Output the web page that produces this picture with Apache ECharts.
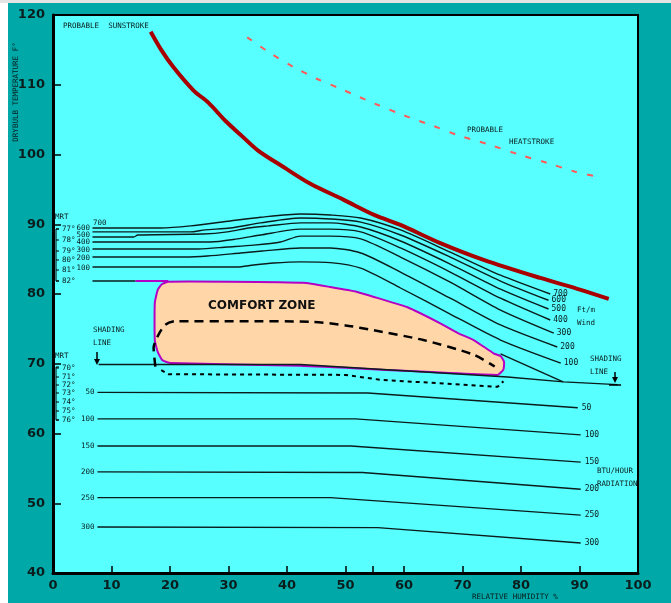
<!DOCTYPE html>
<html><head><meta charset="utf-8">
<script src="https://cdn.jsdelivr.net/npm/echarts@6/dist/echarts.min.js"></script>
<style>html,body{margin:0;padding:0;background:#00A8A8;}#c{width:671px;height:603px;}</style>
</head><body><div id="c"></div><script>
// ---- data: [relative humidity %, dry-bulb temperature F] ----
const sunstroke = [[16.7,117.6],[18.5,115],[20.6,112.5],[24.0,109.2],[26.6,107.4],[29.5,104.8],[32.1,102.8],[35,100.6],[39.4,98.2],[44,95.8],[49.7,93.5],[55,91.3],[59.4,89.9],[66.2,87.3],[73.6,84.9],[83.3,82.3],[90.2,80.6],[95.0,79.3]];
const heatstroke = [[33.2,116.8],[37.2,114.5],[41,112.6],[45,110.9],[49.2,109.4],[55,107.3],[60,105.6],[65,104.1],[69.1,102.8],[75,101.3],[80,99.9],[84.5,98.8],[89,97.6],[93.1,96.8]];
const windLabels = ['700','600','500','400','300','200','100'];
const wind700 = [[6.75,89.46],[18.4,89.46],[23.5,89.76],[30.3,90.47],[35.5,91.0],[42.3,91.47],[47.4,91.33],[52.6,90.9],[59.4,89.18],[67.9,86.0],[76.5,82.7],[85.0,80.0]];
const wind600 = [[6.75,88.9],[23.5,88.9],[26,89.2],[30.3,89.46],[35.5,90.2],[42.3,90.9],[47.4,90.76],[52.6,90.3],[59.4,88.46],[67.9,85.3],[76.5,81.86],[84.7,79.1]];
const wind500 = [[6.75,88.17],[13.8,88.17],[14.5,88.46],[25.7,88.6],[29.8,88.9],[33.4,89.46],[36.8,89.76],[42.3,90.19],[47.4,90.19],[52.6,89.6],[59.4,87.6],[67.9,84.3],[76.5,80.7],[84.7,77.85]];
const wind400 = [[6.75,87.46],[26.9,87.46],[31.5,87.9],[35.5,88.46],[42.3,89.3],[47.4,89.3],[52.6,88.9],[59.4,86.6],[67.9,83.15],[76.5,79.4],[85.0,76.27]];
const wind300 = [[6.75,86.45],[24.9,86.45],[29.8,86.74],[34.3,87.0],[38.9,87.46],[42.3,88.3],[47.4,88.3],[52.6,87.9],[59.4,85.3],[67.9,81.7],[76.5,77.7],[85.6,74.4]];
const wind200 = [[6.75,85.3],[22.6,85.3],[26.4,85.45],[32.1,85.88],[35.8,86.16],[42.3,86.6],[47.4,86.6],[52.6,85.88],[59.4,83.15],[67.9,79.4],[76.5,75.56],[86.2,72.4]];
const wind100 = [[6.75,83.87],[31.5,83.87],[34.3,84.16],[37.7,84.44],[42.3,84.6],[47.4,84.5],[52.6,83.7],[59.4,80.86],[67.9,77.13],[76.5,73.4],[86.8,70.1]];
const baseLine82 = [[6.75,81.86],[14.1,81.86]];
const baseLine82Zone = [[14.1,81.86],[19.7,81.86]];
const comfortZone = [[19.7,81.75],[30,81.75],[42.8,81.6],[47.4,81.0],[52,80.3],[56,79.3],[60.6,78.1],[66.2,75.8],[69.2,74.4],[71.9,73.4],[75.3,71.5],[76.5,71.1],[77.1,70.3],[77.0,69.2],[76.0,68.4],[42.3,69.7],[20.1,70.1],[18.7,70.5],[17.9,71.7],[17.4,73.4],[17.4,78.7],[17.9,80.6],[18.6,81.4]];
const innerDashed = [[17.5,69.6],[17.2,72.3],[18.0,74.1],[19.2,75.6],[20.9,76.1],[32,76.1],[44.5,76.0],[50,75.5],[54.8,74.8],[63.3,73.4],[71.9,71.3],[75.5,69.6]];
const innerDotted = [[18.5,69.1],[19.7,68.5],[50,68.4],[56,67.7],[76,66.7],[77,67.5]];
const shadingLine = [[7.8,69.9],[42.3,69.9],[77.7,68.1],[87.3,67.4],[96.5,67.0]];
const zoneToShading = [[76.5,71.4],[87.2,67.4]];
const radLabels = ['50','100','150','200','250','300'];
const rad50 = [[7.6,65.9],[53.8,65.8],[89.7,63.7]];
const rad100 = [[7.6,62.1],[51.7,62.1],[90.2,59.8]];
const rad150 = [[7.6,58.2],[50.9,58.2],[90.2,55.9]];
const rad200 = [[7.6,54.5],[52.9,54.4],[90.2,52.0]];
const rad250 = [[7.6,50.8],[47.4,50.8],[90.2,48.3]];
const rad300 = [[7.6,46.6],[55.5,46.5],[90.2,44.3]];
const mrtUpper = ['77°','78°','79°','80°','81°','82°'];
const mrtLower = ['70°','71°','72°','73°','74°','75°','76°'];

const INK = '#0a1c1c';
const SMALL = '7.5px "DejaVu Sans Mono"';
const chart = echarts.init(document.getElementById('c'));

function thin(name, data, extra) {
  return Object.assign({
    type: 'line', name: name, data: data, symbol: 'none', silent: true,
    lineStyle: { color: INK, width: 1.4 }, z: 3
  }, extra || {});
}
function endLbl(txt, dist) {
  return { show: true, formatter: txt, color: INK, fontFamily: 'DejaVu Sans Mono', fontSize: 8, distance: dist };
}
const winds = [wind700, wind600, wind500, wind400, wind300, wind200, wind100];
const rads = [rad50, rad100, rad150, rad200, rad250, rad300];

const series = [
  { type: 'custom', name: 'comfort', coordinateSystem: 'cartesian2d', data: [[50, 75]], z: 2, silent: true,
    renderItem: function (params, api) {
      const pts = comfortZone.map(p => api.coord(p));
      return { type: 'polygon', shape: { points: pts, smooth: 0.15 },
        style: { fill: '#FFD6A8', stroke: '#B400C4', lineWidth: 2 } };
    } },
  thin('sunstroke', sunstroke, { smooth: 0.3, lineStyle: { color: '#A80000', width: 4 }, z: 5 }),
  thin('heatstroke', heatstroke, { smooth: 0.3, lineStyle: { color: '#FF5A5A', width: 2, type: [6, 10] }, z: 5 }),
  thin('base82', baseLine82),
  thin('base82zone', baseLine82Zone, { lineStyle: { color: '#B400C4', width: 2 } }),
  thin('shading', shadingLine),
  thin('zoneToShading', zoneToShading),
  thin('innerDashed', innerDashed, { smooth: 0.25, lineStyle: { color: '#000', width: 2.5, type: [9, 6] }, z: 4 }),
  thin('innerDotted', innerDotted, { lineStyle: { color: '#000', width: 2, type: [4, 4] }, z: 4 })
];
winds.forEach((w, i) => series.push(thin('wind' + windLabels[i], w, { smooth: 0.25, endLabel: endLbl(windLabels[i], 3) })));
rads.forEach((r, i) => series.push(thin('rad' + radLabels[i], r, { endLabel: endLbl(radLabels[i], 4) })));

const axisLabelStyle = { color: INK, fontFamily: 'DejaVu Sans', fontWeight: 'bold', fontSize: 13 };
chart.setOption({
  animation: false,
  backgroundColor: '#00A8A8',
  grid: { left: 53, top: 15, width: 585, height: 558, show: true, backgroundColor: '#58FFFF', borderColor: '#000', borderWidth: 2 },
  xAxis: { type: 'value', min: 0, max: 100, interval: 10,
    axisLine: { lineStyle: { color: '#000', width: 3 } },
    axisTick: { inside: true, length: 7, lineStyle: { color: '#000', width: 1.5 } },
    splitLine: { show: false },
    axisLabel: Object.assign({ margin: 6, fontSize: 12 }, axisLabelStyle) },
  yAxis: { type: 'value', min: 40, max: 120, interval: 10,
    axisLine: { lineStyle: { color: '#000', width: 3 } },
    axisTick: { inside: true, length: 8, lineStyle: { color: '#000', width: 1.5 } },
    splitLine: { show: false },
    axisLabel: Object.assign({ margin: 8 }, axisLabelStyle) },
  series: series
});

// ---- annotations ----
function T(text, x, y, opt) {
  return Object.assign({ type: 'text', z: 20, silent: true,
    style: Object.assign({ text: text, x: x, y: y, font: SMALL, fill: INK, textAlign: 'left', textVerticalAlign: 'middle' }, (opt || {})) });
}
const g = [
  { type: 'rect', shape: { x: 0, y: 0, width: 8, height: 603 }, style: { fill: '#FFFFFF' }, z: 1 },
  { type: 'rect', shape: { x: 0, y: 0, width: 671, height: 3 }, style: { fill: '#E4E4E4' }, z: 1 },
  { type: 'text', z: 20, silent: true, x: 16, y: 92, rotation: Math.PI / 2,
    style: { text: 'DRYBULB TEMPERATURE F°', x: 0, y: 0, font: SMALL, fill: INK, textAlign: 'center', textVerticalAlign: 'middle' } },
  T('RELATIVE HUMIDITY %', 472, 597),
  T('PROBABLE  SUNSTROKE', 63, 26),
  T('PROBABLE', 467, 130),
  T('HEATSTROKE', 509, 142),
  T('COMFORT ZONE', 208, 306, { font: 'bold 12px "DejaVu Sans"', fill: '#111' }),
  T('SHADING', 93, 330), T('LINE', 93, 343),
  T('SHADING', 590, 359), T('LINE', 590, 372),
  T('Ft/m', 577, 310), T('Wind', 577, 323),
  T('BTU/HOUR', 597, 471), T('RADIATION', 597, 484),
  T('MRT', 55, 217), T('MRT', 55, 356),
  T('700', 93, 223),
  // arrows
  { type: 'line', shape: { x1: 97, y1: 352, x2: 97, y2: 362 }, style: { stroke: '#000', lineWidth: 1.5 }, z: 20 },
  { type: 'polygon', shape: { points: [[94, 359], [100, 359], [97, 365]] }, style: { fill: '#000' }, z: 20 },
  { type: 'line', shape: { x1: 615, y1: 372, x2: 615, y2: 380 }, style: { stroke: '#000', lineWidth: 1.5 }, z: 20 },
  { type: 'polygon', shape: { points: [[612, 377], [618, 377], [615, 383]] }, style: { fill: '#000' }, z: 20 },
  { type: 'line', shape: { x1: 609, y1: 385, x2: 621, y2: 385 }, style: { stroke: '#000', lineWidth: 1.5 }, z: 20 },
  // extra x tick
  { type: 'line', shape: { x1: 373, y1: 566, x2: 373, y2: 573 }, style: { stroke: '#000', lineWidth: 1.5 }, z: 20 },
  // MRT brackets
  { type: 'polyline', shape: { points: [[59, 229], [56, 229], [56, 281], [59, 281]] }, style: { stroke: '#000', lineWidth: 1, fill: null }, z: 20 },
  { type: 'polyline', shape: { points: [[59, 367], [56, 367], [56, 420], [59, 420]] }, style: { stroke: '#000', lineWidth: 1, fill: null }, z: 20 }
];
const upperY = [229, 240, 251, 260, 270, 281];
mrtUpper.forEach((t, i) => {
  g.push(T(t, 62, upperY[i]));
  g.push({ type: 'line', shape: { x1: 56, y1: upperY[i], x2: 59, y2: upperY[i] }, style: { stroke: '#000', lineWidth: 1 }, z: 20 });
});
const lowerY = [368, 377, 385, 393, 402, 411, 420];
mrtLower.forEach((t, i) => {
  g.push(T(t, 62, lowerY[i]));
  g.push({ type: 'line', shape: { x1: 56, y1: lowerY[i], x2: 59, y2: lowerY[i] }, style: { stroke: '#000', lineWidth: 1 }, z: 20 });
});
const windLeftY = [228, 235, 242, 250, 258, 268];
['600', '500', '400', '300', '200', '100'].forEach((t, i) => g.push(T(t, 90, windLeftY[i], { textAlign: 'right' })));
rads.forEach((r, i) => {
  const p = chart.convertToPixel({ gridIndex: 0 }, r[0]);
  g.push(T(radLabels[i], p[0] - 3, p[1], { textAlign: 'right' }));
});
chart.setOption({ graphic: g });
</script></body></html>
